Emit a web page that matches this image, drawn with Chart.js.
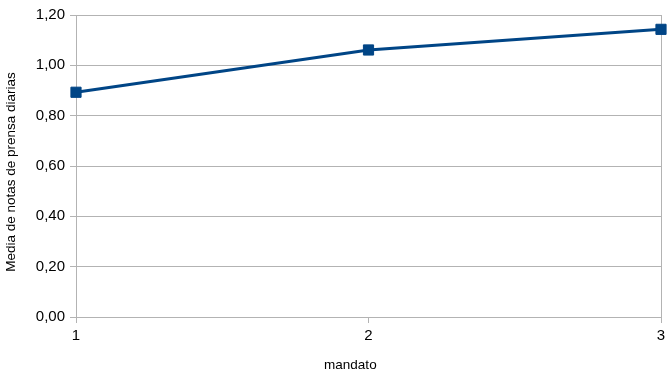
<!DOCTYPE html>
<html>
<head>
<meta charset="utf-8">
<script src="https://cdn.jsdelivr.net/npm/chart.js@4/dist/chart.umd.min.js"></script>
<style>
  html, body { margin: 0; padding: 0; background: #fff; }
  #wrap { width: 671px; height: 378px; position: relative; }
</style>
</head>
<body>
<div id="wrap"><canvas id="c" width="671" height="378"></canvas></div>
<script>
const categories = ['1', '2', '3'];
const values = [0.893, 1.061, 1.143];
const yTickLabels = ['0,00', '0,20', '0,40', '0,60', '0,80', '1,00', '1,20'];
const xTitle = 'mandato';
const yTitle = 'Media de notas de prensa diarias';

const GRID = '#b3b3b3';
const FONT = '"Liberation Sans", Arial, sans-serif';

const axisTitles = {
  id: 'axisTitles',
  afterDraw(chart) {
    const ctx = chart.ctx;
    const a = chart.chartArea;
    ctx.save();
    ctx.fillStyle = '#000';
    ctx.font = '13.5px ' + FONT;
    ctx.textAlign = 'center';
    ctx.textBaseline = 'middle';
    ctx.fillText(xTitle, a.left + (a.right - a.left) * 0.469, 365);
    ctx.translate(11, a.top + (a.bottom - a.top) * 0.52);
    ctx.rotate(-Math.PI / 2);
    ctx.fillText(yTitle, 0, 0);
    ctx.restore();
  }
};

new Chart(document.getElementById('c'), {
  type: 'line',
  data: {
    labels: categories,
    datasets: [{
      data: values,
      borderColor: '#004586',
      backgroundColor: '#004586',
      borderWidth: 3,
      pointStyle: 'rect',
      pointRadius: 7.2,
      pointHoverRadius: 7.2,
      pointBorderWidth: 1,
      pointBorderColor: '#004586',
      pointBackgroundColor: '#004586',
      tension: 0,
      clip: false
    }]
  },
  options: {
    responsive: false,
    animation: false,
    events: [],
    layout: { padding: { top: 15, right: 10, bottom: 0, left: 0 } },
    plugins: { legend: { display: false }, tooltip: { enabled: false } },
    scales: {
      x: {
        type: 'category',
        offset: false,
        afterFit(s) { s.height = 61; },
        grid: {
          color: (c) => (c.index === 1 ? 'rgba(0,0,0,0)' : GRID),
          tickColor: GRID,
          tickLength: 6,
          lineWidth: 1
        },
        border: { color: GRID, width: 1 },
        ticks: {
          color: '#000',
          font: { family: FONT, size: 15 },
          padding: 4,
          maxRotation: 0
        }
      },
      y: {
        min: 0,
        max: 1.2,
        afterFit(s) { s.width = 76; },
        grid: { color: GRID, tickColor: GRID, tickLength: 6, lineWidth: 1 },
        border: { color: GRID, width: 1 },
        ticks: {
          stepSize: 0.2,
          color: '#000',
          font: { family: FONT, size: 15 },
          padding: 5,
          callback: (v, i) => yTickLabels[i]
        }
      }
    }
  },
  plugins: [axisTitles]
});
</script>
</body>
</html>
